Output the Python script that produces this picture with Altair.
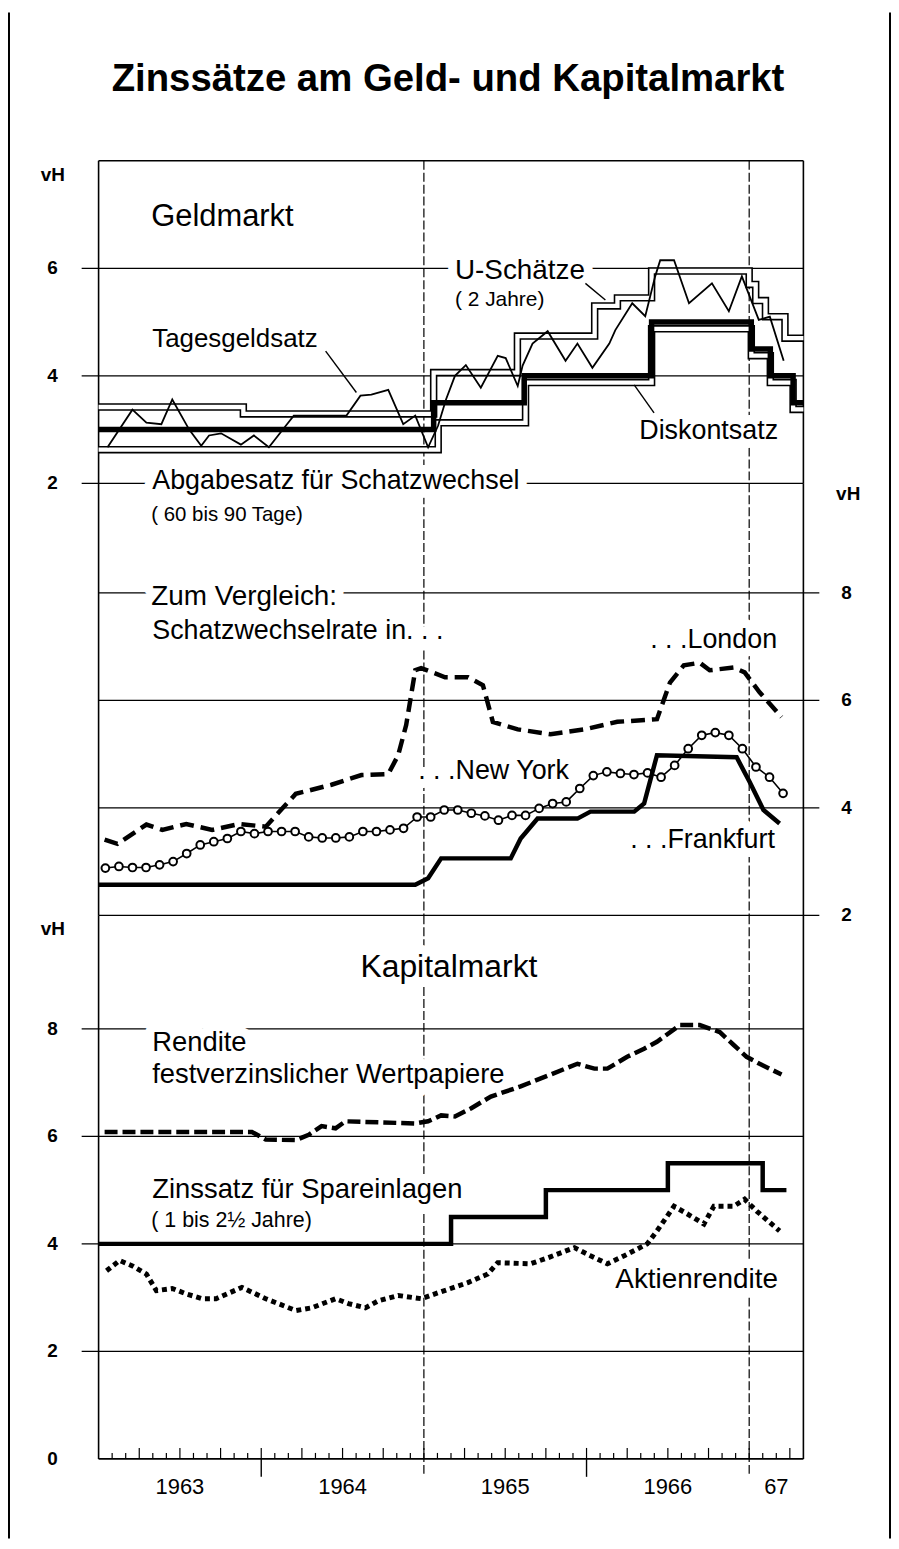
import altair as alt
import pandas as pd

FONT = "Liberation Sans"
W = 708
PX = 54.0
H1, H2, H3 = 324, 434, 546
T0, T1 = 1963.0, 1967.3333

# ---------------- Geldmarkt (panel 1) ----------------
diskont_t = [1963.0, 1965.06, 1965.617, 1966.40, 1967.013, 1967.13, 1967.27, 1967.3333]
diskont_v = [3.0, 3.5, 4.0, 5.0, 4.5, 4.0, 3.5, 3.5]

uschaetze_t = [1963.0, 1963.89, 1965.06, 1965.575, 1966.05, 1966.19, 1966.40,
               1967.0, 1967.04, 1967.10, 1967.22, 1967.3333]
uschaetze_v = [3.42, 3.29, 4.06, 4.74, 5.30, 5.45, 5.95, 5.70, 5.40, 5.10, 4.70, 4.70]

abgabe_t = [1963.0, 1965.088, 1965.625, 1966.40, 1967.013, 1967.13, 1967.27, 1967.3333]
abgabe_v = [2.625, 3.125, 3.875, 4.875, 4.375, 3.875, 3.375, 3.375]

tagesgeld_t = [1963.055, 1963.208, 1963.294, 1963.386, 1963.453, 1963.557, 1963.631, 1963.679,
               1963.753, 1963.875, 1963.955, 1964.047, 1964.151, 1964.200, 1964.524, 1964.610,
               1964.677, 1964.781, 1964.873, 1964.947, 1965.026, 1965.087, 1965.136, 1965.191,
               1965.258, 1965.350, 1965.454, 1965.503, 1965.577, 1965.607, 1965.668, 1965.761,
               1965.871, 1965.944, 1966.036, 1966.140, 1966.177, 1966.281, 1966.361, 1966.422,
               1966.453, 1966.538, 1966.630, 1966.771, 1966.875, 1966.955, 1967.059, 1967.127,
               1967.212]
tagesgeld_v = [2.67, 3.37, 3.13, 3.10, 3.56, 3.00, 2.70, 2.89, 2.93, 2.72, 2.89, 2.67, 3.07,
               3.26, 3.26, 3.63, 3.65, 3.74, 3.10, 3.26, 2.67, 3.07, 3.56, 4.00, 4.20, 3.78,
               4.37, 4.33, 3.81, 4.19, 4.60, 4.83, 4.28, 4.60, 4.15, 4.60, 4.85, 5.35, 5.11,
               5.85, 6.15, 6.15, 5.35, 5.72, 5.20, 5.85, 5.04, 5.10, 4.28]

# ---------------- Zum Vergleich (panel 2) ----------------
london_t = [1963.037, 1963.116, 1963.294, 1963.392, 1963.539, 1963.698, 1963.863, 1964.028,
            1964.139, 1964.212, 1964.432, 1964.616, 1964.781, 1964.842, 1964.891, 1964.947,
            1964.983, 1965.130, 1965.271, 1965.363, 1965.424, 1965.577, 1965.779, 1965.987,
            1966.189, 1966.433, 1966.513, 1966.598, 1966.696, 1966.757, 1966.904, 1966.972,
            1967.064, 1967.199]
london_v = [3.41, 3.33, 3.69, 3.59, 3.70, 3.59, 3.70, 3.65, 4.02, 4.26, 4.43, 4.61, 4.63,
            4.98, 5.54, 6.56, 6.60, 6.43, 6.43, 6.28, 5.60, 5.46, 5.37, 5.46, 5.60, 5.65,
            6.33, 6.65, 6.70, 6.56, 6.61, 6.52, 6.15, 5.69]

# monthly, Jan 1963 .. Mar 1967
newyork_v = [2.88, 2.91, 2.89, 2.89, 2.94, 3.00, 3.15, 3.31, 3.37, 3.43, 3.56, 3.52,
             3.56, 3.56, 3.56, 3.46, 3.44, 3.44, 3.46, 3.56, 3.56, 3.59, 3.62, 3.83,
             3.83, 3.96, 3.96, 3.90, 3.85, 3.77, 3.86, 3.86, 3.99, 4.08, 4.11, 4.36,
             4.60, 4.67, 4.64, 4.62, 4.65, 4.57, 4.79, 5.10, 5.35, 5.40, 5.35, 5.10,
             4.76, 4.57, 4.27]

frank_t = [1963.0, 1964.947, 1965.026, 1965.106, 1965.534, 1965.595, 1965.699, 1965.944,
           1966.024, 1966.293, 1966.354, 1966.433, 1966.923, 1967.003, 1967.088, 1967.187]
frank_v = [2.57, 2.57, 2.69, 3.06, 3.06, 3.43, 3.80, 3.80, 3.93, 3.93, 4.08, 4.98, 4.94,
           4.48, 3.96, 3.71]

# ---------------- Kapitalmarkt (panel 3) ----------------
rendite_t = [1963.037, 1963.943, 1964.028, 1964.212, 1964.292, 1964.371, 1964.457, 1964.518,
             1964.947, 1965.026, 1965.106, 1965.191, 1965.289, 1965.412, 1965.595, 1965.779,
             1965.944, 1966.048, 1966.128, 1966.250, 1966.354, 1966.433, 1966.574, 1966.696,
             1966.819, 1966.905, 1966.984, 1967.064, 1967.199]
rendite_v = [6.08, 6.08, 5.94, 5.93, 6.03, 6.19, 6.15, 6.28, 6.24, 6.28, 6.39, 6.37, 6.52,
             6.74, 6.93, 7.15, 7.35, 7.26, 7.26, 7.48, 7.63, 7.76, 8.07, 8.07, 7.94, 7.70,
             7.48, 7.35, 7.15]

spar_t = [1963.0, 1965.167, 1965.75, 1966.5, 1967.083, 1967.229]
spar_v = [4.0, 4.5, 5.0, 5.5, 5.0, 5.0]

aktien_t = [1963.049, 1963.129, 1963.208, 1963.294, 1963.355, 1963.453, 1963.539, 1963.637,
            1963.722, 1963.881, 1964.028, 1964.212, 1964.310, 1964.457, 1964.536, 1964.640,
            1964.720, 1964.842, 1964.983, 1965.087, 1965.271, 1965.393, 1965.454, 1965.656,
            1965.761, 1965.926, 1966.024, 1966.128, 1966.232, 1966.373, 1966.433, 1966.538,
            1966.618, 1966.722, 1966.783, 1966.905, 1966.972, 1967.046, 1967.187]
aktien_v = [3.50, 3.69, 3.59, 3.44, 3.13, 3.17, 3.07, 2.98, 2.98, 3.19, 2.98, 2.76, 2.81,
            2.98, 2.89, 2.81, 2.94, 3.04, 2.98, 3.09, 3.28, 3.44, 3.65, 3.63, 3.74, 3.93,
            3.78, 3.63, 3.78, 4.00, 4.24, 4.70, 4.56, 4.37, 4.70, 4.70, 4.83, 4.61, 4.24]

# ---------------- axis ticks / labels ----------------
y1_ticks = [2, 4, 6]
y2_ticks = [2, 4, 6, 8]
y3_grid = [2, 4, 6, 8]
y3_ticks = [0, 2, 4, 6, 8]
year_labels = ["1963", "1964", "1965", "1966", "67"]
year_label_pos = [1963.5, 1964.5, 1965.5, 1966.5, 1967.1667]
dashed_years = [1965.0, 1967.0]
solid_years = [1964.0, 1966.0]
unit_label = "vH"

# ---------------- annotations ----------------
txt1_label = ["Geldmarkt", "Tagesgeldsatz", "U-Schätze", "( 2 Jahre)", "Diskontsatz"]
txt1_t = [1963.324, 1963.33, 1965.191, 1965.191, 1966.324]
txt1_v = [6.78, 4.54, 5.81, 5.30, 2.82]
txt1_size = [31, 26, 28, 21, 27]

txt2_label = ["Abgabesatz für Schatzwechsel", "( 60 bis 90 Tage)", "Zum Vergleich:",
              "Schatzwechselrate in. . .", ". . .London", ". . .New York", ". . .Frankfurt"]
txt2_t = [1963.33, 1963.324, 1963.324, 1963.33, 1966.391, 1964.965, 1966.268]
txt2_v = [9.93, 9.33, 7.78, 7.15, 6.98, 4.54, 3.26]
txt2_size = [27, 20.5, 28, 27, 27, 27, 27]

txt3_label = ["Kapitalmarkt", "Rendite", "festverzinslicher Wertpapiere",
              "Zinssatz für Spareinlagen", "( 1 bis 2½ Jahre)", "Aktienrendite"]
txt3_t = [1964.61, 1963.33, 1963.33, 1963.33, 1963.324, 1966.177]
txt3_v = [8.96, 7.58, 6.99, 4.86, 4.31, 3.18]
txt3_size = [32, 27.5, 27.5, 27.5, 21.5, 28]

lead_t1 = [1964.396, 1965.993, 1966.293]
lead_v1 = [4.46, 5.72, 3.83]
lead_t2 = [1964.585, 1966.116, 1966.415]
lead_v2 = [3.69, 5.41, 3.31]

TITLE = "Zinssätze am Geld- und Kapitalmarkt"

# ---------------- helpers ----------------
xs = alt.Scale(domain=[T0, T1], nice=False, zero=False)
ys1 = alt.Scale(domain=[2, 2 + H1 / PX], nice=False, zero=False)
ys2 = alt.Scale(domain=[2, 2 + H2 / PX], nice=False, zero=False)
ys3 = alt.Scale(domain=[0, H3 / PX], nice=False, zero=False)

one = pd.DataFrame({"a": [0]})


def df(t, v):
    return pd.DataFrame({"t": t, "v": v})


def X():
    return alt.X("t:Q", scale=xs, axis=None)


def Y(scale):
    return alt.Y("v:Q", scale=scale, axis=None)


def line(data, ys, width, dash=None, interp="linear", color="black", cap="butt"):
    kw = dict(color=color, strokeWidth=width, interpolate=interp, strokeCap=cap,
              strokeJoin="miter")
    if dash:
        kw["strokeDash"] = dash
    return alt.Chart(data).mark_line(**kw).encode(x=X(), y=Y(ys))


def frame(H):
    left = alt.Chart(one).mark_rule(color="black", strokeWidth=1.6).encode(
        x=alt.value(0), y=alt.value(0), y2=alt.value(H))
    right = alt.Chart(one).mark_rule(color="black", strokeWidth=1.6).encode(
        x=alt.value(W), y=alt.value(0), y2=alt.value(H))
    return [left, right]


def vlines(H, extra=0):
    return alt.Chart(pd.DataFrame({"t": dashed_years})).mark_rule(
        color="black", strokeWidth=1.2, strokeDash=[9, 3]).encode(
        x=X(), y=alt.value(0), y2=alt.value(H + extra))


def grid(values, ys, x0, x1):
    return alt.Chart(pd.DataFrame({"v": values})).mark_rule(
        color="black", strokeWidth=1.3).encode(
        y=Y(ys), x=alt.value(x0), x2=alt.value(x1))


def ylabels(values, ys, xpix, align):
    data = pd.DataFrame({"v": values, "label": [str(v) for v in values]})
    return alt.Chart(data).mark_text(
        font=FONT, fontSize=19, fontWeight="bold", align=align, baseline="middle",
        color="black").encode(y=Y(ys), x=alt.value(xpix), text="label:N")


def unit(xpix, ypix):
    return alt.Chart(one).mark_text(
        text=unit_label, font=FONT, fontSize=19, fontWeight="bold", align="center",
        baseline="alphabetic", color="black").encode(x=alt.value(xpix), y=alt.value(ypix))


def texts(label, t, v, size, ys):
    data = pd.DataFrame({"label": label, "t": t, "v": v, "size": size})
    base = alt.Chart(data).encode(
        x=X(), y=Y(ys), text="label:N",
        size=alt.Size("size:Q", scale=None, legend=None))
    halo = base.mark_text(align="left", baseline="alphabetic", font=FONT,
                          stroke="white", strokeWidth=18, strokeJoin="round", fill="white")
    txt = base.mark_text(align="left", baseline="alphabetic", font=FONT, color="black")
    return halo, txt


# ---------------- panel 1 ----------------
top_rule = alt.Chart(one).mark_rule(color="black", strokeWidth=1.6).encode(
    x=alt.value(0), x2=alt.value(W), y=alt.value(0))
outer_l = alt.Chart(one).mark_rule(color="black", strokeWidth=2).encode(
    x=alt.value(-90), y=alt.value(-149), y2=alt.value(1384))
outer_r = alt.Chart(one).mark_rule(color="black", strokeWidth=2).encode(
    x=alt.value(795), y=alt.value(-149), y2=alt.value(1384))
title = alt.Chart(one).mark_text(
    text=TITLE, font=FONT, fontSize=38.5, fontWeight="bold", align="center",
    baseline="alphabetic", color="black").encode(x=alt.value(351), y=alt.value(-70))

h1, t1 = texts(txt1_label, txt1_t, txt1_v, txt1_size, ys1)
d_u = df(uschaetze_t, uschaetze_v)
d_a = df(abgabe_t, abgabe_v)
leaders = alt.Chart(pd.DataFrame({"t1": lead_t1, "v1": lead_v1, "t2": lead_t2,
                                  "v2": lead_v2})).mark_rule(
    color="black", strokeWidth=1.4).encode(
    x=alt.X("t1:Q", scale=xs, axis=None), x2="t2:Q",
    y=alt.Y("v1:Q", scale=ys1, axis=None), y2="v2:Q")

p1 = alt.layer(
    grid(y1_ticks, ys1, -17, W),
    *frame(H1), top_rule, vlines(H1), h1,
    line(d_u, ys1, 7.5, interp="step-after"),
    line(d_u, ys1, 4.3, interp="step-after", color="white"),
    line(d_a, ys1, 7.5, interp="step-after"),
    line(d_a, ys1, 4.3, interp="step-after", color="white"),
    line(df(diskont_t, diskont_v), ys1, 5.5, interp="step-after"),
    line(df(tagesgeld_t, tagesgeld_v), ys1, 1.8),
    leaders, t1, ylabels(y1_ticks, ys1, -41, "right"), unit(-46, 20),
    title, outer_l, outer_r,
).properties(width=W, height=H1)

# ---------------- panel 2 ----------------
ny_t = [1963 + (i + 0.5) / 12 for i in range(len(newyork_v))]
d_ny = df(ny_t, newyork_v)
h2, t2 = texts(txt2_label, txt2_t, txt2_v, txt2_size, ys2)
p2 = alt.layer(
    grid(y2_ticks, ys2, 0, W + 16),
    *frame(H2), vlines(H2), h2,
    line(df(london_t, london_v), ys2, 4.5, dash=[14, 7]),
    line(d_ny, ys2, 1.6),
    alt.Chart(d_ny).mark_point(shape="circle", filled=True, fill="white", stroke="black",
                               strokeWidth=2, size=60, opacity=1).encode(x=X(), y=Y(ys2)),
    line(df(frank_t, frank_v), ys2, 4.5),
    t2, ylabels(y2_ticks, ys2, W + 38, "left"), unit(W + 45, 17),
).properties(width=W, height=H2)

# ---------------- panel 3 ----------------
h3, t3 = texts(txt3_label, txt3_t, txt3_v, txt3_size, ys3)

short_m = [1963 + k / 12 for k in range(1, 52) if k % 3 != 0]
long_m = [1963 + k / 12 for k in range(1, 52) if k % 3 == 0]
tick_s = alt.Chart(pd.DataFrame({"t": short_m})).mark_rule(color="black", strokeWidth=1.2).encode(
    x=X(), y=alt.value(H3), y2=alt.value(H3 - 6))
tick_l = alt.Chart(pd.DataFrame({"t": long_m})).mark_rule(color="black", strokeWidth=1.2).encode(
    x=X(), y=alt.value(H3), y2=alt.value(H3 - 11))
tick_y = alt.Chart(pd.DataFrame({"t": solid_years})).mark_rule(color="black", strokeWidth=1.4).encode(
    x=X(), y=alt.value(H3), y2=alt.value(H3 + 18))
baseline = alt.Chart(one).mark_rule(color="black", strokeWidth=1.8).encode(
    x=alt.value(0), x2=alt.value(W), y=alt.value(H3))
xlabels = alt.Chart(pd.DataFrame({"t": year_label_pos, "label": year_labels})).mark_text(
    font=FONT, fontSize=22, align="center", baseline="alphabetic", color="black").encode(
    x=X(), y=alt.value(H3 + 35), text="label:N")

p3 = alt.layer(
    grid(y3_grid, ys3, -17, W),
    *frame(H3), vlines(H3, 18), tick_s, tick_l, tick_y, baseline, h3,
    line(df(rendite_t, rendite_v), ys3, 4.5, dash=[13, 5]),
    line(df(spar_t, spar_v), ys3, 4.5, interp="step-after"),
    line(df(aktien_t, aktien_v), ys3, 5, dash=[5, 4]),
    t3, ylabels(y3_ticks, ys3, -41, "right"), unit(-46, 20), xlabels,
).properties(width=W, height=H3)

chart = alt.vconcat(p1, p2, p3, spacing=0, bounds="flush").properties(
    padding=0, background="white"
).configure_view(stroke=None)

chart.save("out.html", embed_options={"renderer": "svg", "actions": False})
